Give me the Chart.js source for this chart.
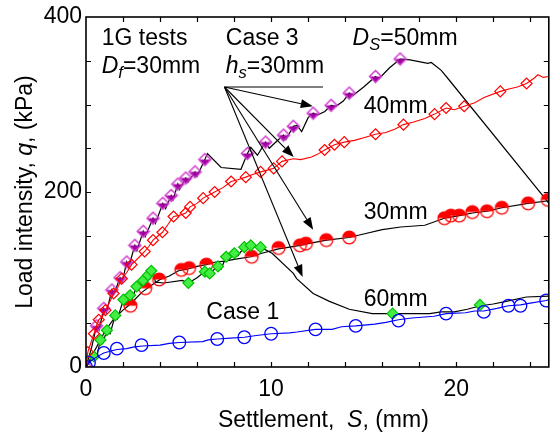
<!DOCTYPE html>
<html>
<head>
<meta charset="utf-8">
<script src="https://cdn.jsdelivr.net/npm/chart.js@4.4.1/dist/chart.umd.min.js"></script>
<style>
  html, body { margin: 0; padding: 0; background: #fff; }
  #wrap { width: 558px; height: 437px; }
</style>
</head>
<body>
<div id="wrap"><canvas id="c" width="558" height="437"></canvas></div>
<script>
// Load–settlement curves from 1G model footing tests, settlement S (mm) vs load intensity q (kPa)

// Case 1 (no sand column)
const case1Curve = [[0,0],[0.16,5],[0.4,9],[0.7,13],[0.96,16],[1.3,18],[1.67,20],[2.2,21],[2.6,23],[3.05,24],[4.0,25],[4.5,27],[5.04,28],[6.3,29],[6.6,31],[7.09,32],[7.8,33],[8.55,34],[9.2,36],[10.0,38],[11.0,39],[11.4,40],[12.4,43],[13.3,43],[13.8,46],[14.57,47],[15.6,49],[16.2,51],[16.88,54],[17.6,56],[18.8,58],[19.45,61],[20.5,62],[21.0,64],[21.49,64],[22.2,67],[22.82,70],[23.47,71],[24.0,73],[24.86,76],[25,77]];
const case1Marks = [[0,0],[0.16,5],[0.96,16],[1.67,21],[3.0,25],[5.04,28],[7.09,32],[8.55,34],[10.0,38],[12.4,43],[14.57,47],[16.88,53],[19.45,61],[21.49,63],[22.82,70],[23.47,70],[24.86,76]];

// Case 3, Ds = 50 mm
const ds50Curve = [[0,0],[0.3,22],[0.57,47],[0.7,42],[0.96,67],[1.1,62],[1.4,88],[1.5,83],[1.84,102],[1.95,97],[2.2,120],[2.3,114],[2.64,139],[2.75,133],[3.09,155],[3.2,149],[3.62,170],[3.75,164],[4.15,187],[4.3,181],[4.6,196],[4.7,191],[4.96,209],[5.05,203],[5.39,216],[5.5,211],[5.89,223],[6.0,218],[6.42,237],[6.56,244],[7.3,228],[8.37,226],[8.72,244],[8.9,251],[9.26,242],[9.7,257],[9.9,250],[10.3,258],[10.67,265],[10.8,260],[11.2,275],[11.4,276],[11.65,269],[12.0,285],[12.27,290],[12.5,288],[12.9,292],[13.24,299],[13.5,298],[13.9,304],[14.22,313],[14.4,310],[15.0,320],[15.64,332],[15.8,329],[16.4,342],[16.97,352],[17.5,351],[18.47,347],[18.65,348],[19.19,339],[19.54,330],[24.86,191],[25,187]];
const ds50Marks = [[0,0],[0.57,47],[0.96,67],[1.4,88],[1.84,102],[2.2,120],[2.64,139],[3.09,155],[3.62,170],[4.15,187],[4.6,196],[4.96,209],[5.39,216],[5.89,223],[6.42,237],[8.72,244],[9.7,257],[10.67,265],[11.2,275],[12.27,290],[13.24,299],[14.22,313],[15.64,332],[16.97,352]];

// Case 3, Ds = 40 mm
const ds40Curve = [[0,0],[0.1,17],[0.3,30],[0.43,38],[0.69,54],[0.9,58],[1.05,65],[1.3,75],[1.49,84],[1.7,90],[1.93,101],[2.2,108],[2.46,117],[2.8,124],[3.17,132],[3.4,138],[3.62,145],[3.9,150],[4.13,154],[4.4,162],[4.73,172],[5.0,173],[5.39,176],[5.62,183],[6.0,187],[6.33,193],[6.6,196],[6.95,200],[7.4,205],[7.84,212],[8.2,214],[8.63,217],[9.0,220],[9.43,223],[9.8,225],[10.14,227],[10.59,235],[11.2,238],[11.6,237],[12.18,240],[12.5,243],[12.89,248],[13.42,254],[13.95,257],[14.5,259],[15.0,262],[15.64,266],[16.2,268],[16.7,272],[17.15,277],[17.7,280],[18.3,284],[18.83,289],[19.45,296],[19.9,294],[20.43,298],[21.0,302],[21.5,308],[22.38,315],[22.9,318],[23.3,320],[23.8,324],[24.2,330],[24.41,334],[24.7,331],[25,332]];
const ds40Marks = [[0.1,17],[0.43,38],[0.69,54],[1.05,65],[1.49,84],[1.93,101],[2.46,117],[3.17,132],[3.62,145],[4.13,154],[4.73,172],[5.39,176],[5.62,183],[6.33,193],[6.95,200],[7.84,212],[8.63,217],[9.43,223],[10.14,227],[10.59,235],[12.89,248],[13.42,254],[13.95,257],[15.64,266],[17.15,277],[18.83,289],[19.45,296],[20.43,298],[22.38,315],[23.8,324]];

// Case 3, Ds = 30 mm
const ds30Curve = [[0,0],[0.5,20],[1.0,40],[1.5,55],[2.0,65],[2.4,72],[3.0,85],[3.5,93],[4.0,100],[4.5,104],[5.0,110],[5.5,112],[6.0,115],[6.5,117],[7.0,120],[7.5,121],[8.0,123],[8.9,126],[9.5,130],[10.4,135],[11.0,137],[11.56,139],[12.0,141],[13.0,145],[14.2,148],[15.0,152],[16.0,157],[17.0,160],[18.3,162],[19.36,170],[20.16,173],[20.87,176],[21.66,178],[22.46,182],[23.88,187],[25,190]];
const ds30Marks = [[2.4,70],[3.2,90],[3.95,100],[5.15,111],[5.57,113],[6.5,117],[8.95,126],[10.4,136],[11.56,139],[11.88,141],[12.98,145],[14.22,148],[19.36,170],[19.71,173],[20.16,173],[20.87,177],[21.66,178],[22.46,182],[23.88,187],[24.95,191]];

// Case 3, Ds = 60 mm
const ds60Curve = [[0,0],[0.43,12],[0.55,9],[0.78,31],[0.9,27],[1.13,42],[1.3,38],[1.58,59],[1.7,55],[2.02,77],[2.15,72],[2.38,82],[2.5,78],[2.73,92],[2.85,88],[3.09,99],[3.2,96],[3.35,105],[3.45,101],[3.6,112],[3.75,97],[4.2,96],[5.2,99],[5.53,96],[6.0,102],[6.42,109],[6.6,104],[6.68,107],[7.13,115],[7.3,112],[7.57,126],[7.7,122],[8.01,130],[8.2,127],[8.55,137],[8.9,139],[9.43,137],[10.05,130],[11.2,107],[11.38,101],[12.27,84],[13.15,75],[14.22,66],[15.46,61],[18.57,61],[19.18,63],[19.9,63],[20.6,66],[21.31,70],[22.0,72],[22.7,75],[23.79,80],[25,81]];
const ds60Marks = [[0.43,12],[0.78,31],[1.13,42],[1.58,59],[2.02,77],[2.38,82],[2.73,92],[3.09,99],[3.35,105],[3.53,110],[5.53,96],[6.42,109],[6.68,107],[7.13,115],[7.57,126],[8.01,130],[8.55,137],[8.9,139],[9.43,137],[16.56,61],[21.28,71]];

// Axis ranges and ticks
const xRange = [0, 25];
const yRange = [0, 400];
const xTickLabels = [0, 10, 20];
const yTickLabels = [0, 200, 400];
const xMinorStep = 2;
const yMinorStep = 50;

// Annotation text (data coordinates: left edge, vertical centre)
const FONT = '"Liberation Sans", Arial, Helvetica, sans-serif';
const FS = 23;
const notes = [
  { at: [0.85, 375], parts: [{ t: '1G tests' }] },
  { at: [0.85, 343], parts: [{ t: 'D', it: 1 }, { t: 'f', it: 1, sub: 1 }, { t: '=30mm' }] },
  { at: [7.55, 375], parts: [{ t: 'Case 3' }] },
  { at: [7.55, 343], parts: [{ t: 'h', it: 1 }, { t: 's', it: 1, sub: 1 }, { t: '=30mm' }] },
  { at: [14.4, 375], parts: [{ t: 'D', it: 1 }, { t: 'S', it: 1, sub: 1 }, { t: '=50mm' }] },
  { at: [15.0, 297], parts: [{ t: '40mm' }] },
  { at: [15.0, 176], parts: [{ t: '30mm' }] },
  { at: [15.0, 77], parts: [{ t: '60mm' }] },
  { at: [6.5, 62], parts: [{ t: 'Case 1' }] }
];
// Pointer lines from the "Case 3" label to each curve
const arrowFrom = [7.48, 320];
const arrowRule = [12.8, 320];
const arrowTips = [[12.25, 298], [11.22, 240], [12.27, 157], [11.7, 103]];

const pts = a => a.map(p => ({ x: p[0], y: p[1] }));

// Marker images
function marker(size, draw) {
  const c = document.createElement('canvas');
  c.width = size; c.height = size;
  draw(c.getContext('2d'), size / 2);
  return c;
}
const halfCircle = marker(17, (g, m) => {
  g.fillStyle = '#ff0000';
  g.beginPath(); g.arc(m, m, 6.4, Math.PI, 2 * Math.PI); g.closePath(); g.fill();
  g.strokeStyle = '#ff0000'; g.lineWidth = 1.3;
  g.beginPath(); g.arc(m, m, 6.4, 0, 2 * Math.PI); g.stroke();
});
const halfDiamond = marker(15, (g, m) => {
  const r = 6;
  g.fillStyle = '#a000a0';
  g.beginPath(); g.moveTo(m - r, m); g.lineTo(m, m + r); g.lineTo(m + r, m); g.closePath(); g.fill();
  g.strokeStyle = '#d040d0'; g.lineWidth = 1.5;
  g.beginPath(); g.moveTo(m, m - r); g.lineTo(m + r, m); g.lineTo(m, m + r); g.lineTo(m - r, m); g.closePath(); g.stroke();
});

function richText(ctx, x, y, parts) {
  let cx = x;
  for (const p of parts) {
    const fs = p.sub ? FS * 0.72 : FS;
    ctx.font = (p.it ? 'italic ' : '') + fs + 'px ' + FONT;
    ctx.fillText(p.t, cx, y + (p.sub ? FS * 0.28 : 0));
    cx += ctx.measureText(p.t).width;
  }
  return cx - x;
}
function richWidth(ctx, parts) {
  let w = 0;
  for (const p of parts) {
    const fs = p.sub ? FS * 0.72 : FS;
    ctx.font = (p.it ? 'italic ' : '') + fs + 'px ' + FONT;
    w += ctx.measureText(p.t).width;
  }
  return w;
}

const decor = {
  id: 'decor',
  afterDraw(chart) {
    const { ctx, chartArea: a, scales: { x, y } } = chart;
    ctx.save();
    // frame
    ctx.strokeStyle = '#000'; ctx.lineWidth = 1.6;
    ctx.strokeRect(a.left, a.top, a.right - a.left, a.bottom - a.top);
    // inward ticks on all four sides
    ctx.lineWidth = 1.2;
    ctx.beginPath();
    for (let v = xRange[0] + xMinorStep; v < xRange[1]; v += xMinorStep) {
      const px = Math.round(x.getPixelForValue(v)) + 0.5;
      ctx.moveTo(px, a.bottom); ctx.lineTo(px, a.bottom - 5);
      ctx.moveTo(px, a.top); ctx.lineTo(px, a.top + 5);
    }
    for (let v = yRange[0] + yMinorStep; v < yRange[1]; v += yMinorStep) {
      const py = Math.round(y.getPixelForValue(v)) + 0.5;
      ctx.moveTo(a.left, py); ctx.lineTo(a.left + 5, py);
      ctx.moveTo(a.right, py); ctx.lineTo(a.right - 5, py);
    }
    ctx.stroke();

    // pointer lines with arrow heads
    const ox = x.getPixelForValue(arrowFrom[0]), oy = y.getPixelForValue(arrowFrom[1]);
    ctx.lineWidth = 1.1;
    ctx.beginPath();
    ctx.moveTo(ox, oy); ctx.lineTo(x.getPixelForValue(arrowRule[0]), y.getPixelForValue(arrowRule[1]));
    ctx.stroke();
    ctx.fillStyle = '#000';
    for (const t of arrowTips) {
      const tx = x.getPixelForValue(t[0]), ty = y.getPixelForValue(t[1]);
      const ang = Math.atan2(ty - oy, tx - ox);
      const L = 12, W = 4.5;
      const bx = tx - L * Math.cos(ang), by = ty - L * Math.sin(ang);
      ctx.beginPath(); ctx.moveTo(ox, oy); ctx.lineTo(bx, by); ctx.stroke();
      ctx.beginPath();
      ctx.moveTo(tx, ty);
      ctx.lineTo(bx + W * Math.sin(ang), by - W * Math.cos(ang));
      ctx.lineTo(bx - W * Math.sin(ang), by + W * Math.cos(ang));
      ctx.closePath(); ctx.fill();
    }

    // labels
    ctx.textBaseline = 'middle'; ctx.textAlign = 'left'; ctx.fillStyle = '#000';
    for (const n of notes) {
      richText(ctx, x.getPixelForValue(n.at[0]), y.getPixelForValue(n.at[1]), n.parts);
    }

    // axis titles
    const xt = [{ t: 'Settlement,  ' }, { t: 'S', it: 1 }, { t: ', (mm)' }];
    const xw = richWidth(ctx, xt);
    richText(ctx, (a.left + a.right) / 2 - xw / 2 + 6, 421, xt);
    const yt = [{ t: 'Load intensity, ' }, { t: 'q', it: 1 }, { t: ', (kPa)' }];
    const yw = richWidth(ctx, yt);
    ctx.translate(26, (a.top + a.bottom) / 2);
    ctx.rotate(-Math.PI / 2);
    richText(ctx, -yw / 2, 0, yt);
    ctx.restore();
  }
};

const lineDs = (data, color, width) => ({
  data: pts(data), showLine: true, borderColor: color, borderWidth: width,
  pointRadius: 0, pointHoverRadius: 0, fill: false, tension: 0
});
const markDs = (data, style, radius, fillC, edgeC, width) => ({
  data: pts(data), showLine: false, pointStyle: style, pointRadius: radius,
  backgroundColor: fillC, borderColor: edgeC, pointBorderWidth: width || 1.2
});

new Chart(document.getElementById('c'), {
  type: 'scatter',
  data: {
    datasets: [
      lineDs(case1Curve, '#0000ff', 1.1),
      lineDs(ds40Curve, '#ff0000', 1.1),
      markDs(case1Marks, 'circle', 6.3, 'rgba(0,0,0,0)', '#0000ff', 1.3),
      markDs(ds40Marks, 'rectRot', 5.5, 'rgba(0,0,0,0)', '#ff0000', 1.2),
      markDs(ds60Marks, 'rectRot', 5.5, '#44ee44', '#00c000', 1.2),
      markDs(ds30Marks, halfCircle, 8, '#ff0000', '#ff0000'),
      markDs(ds50Marks, halfDiamond, 7, '#a000a0', '#d040d0'),
      lineDs(ds60Curve, '#000000', 1.2),
      lineDs(ds30Curve, '#000000', 1.2),
      lineDs(ds50Curve, '#000000', 1.2)
    ]
  },
  options: {
    responsive: false,
    animation: false,
    devicePixelRatio: 1,
    layout: { padding: { top: 17, right: -1, left: 0, bottom: 0 } },
    plugins: { legend: { display: false }, tooltip: { enabled: false } },
    scales: {
      x: {
        type: 'linear', min: xRange[0], max: xRange[1],
        grid: { display: false, drawTicks: false },
        border: { display: false },
        afterBuildTicks: s => { s.ticks = xTickLabels.map(v => ({ value: v })); },
        afterFit: s => { s.height = 70; s.paddingLeft = 0; s.paddingRight = 0; },
        ticks: { padding: 9, color: '#000', font: { family: FONT, size: FS }, maxRotation: 0 }
      },
      y: {
        type: 'linear', min: yRange[0], max: yRange[1],
        grid: { display: false, drawTicks: false },
        border: { display: false },
        afterBuildTicks: s => { s.ticks = yTickLabels.map(v => ({ value: v })); },
        afterFit: s => { s.width = 86; s.paddingTop = 0; s.paddingBottom = 0; },
        ticks: { padding: 4, color: '#000', font: { family: FONT, size: FS } }
      }
    }
  },
  plugins: [decor]
});
</script>
</body>
</html>
